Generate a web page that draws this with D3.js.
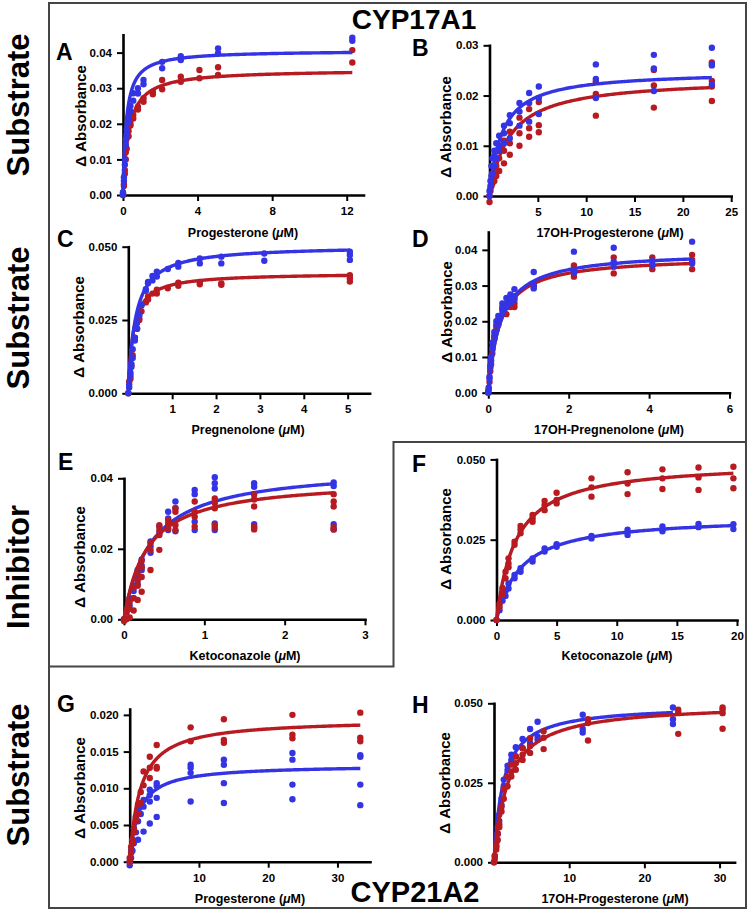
<!DOCTYPE html>
<html>
<head>
<meta charset="utf-8">
<script src="https://cdn.jsdelivr.net/npm/d3@7"></script>
<style>
body { margin: 0; background: #fff; }
svg { display: block; font-family: "Liberation Sans", Arial, Helvetica, sans-serif; font-weight: bold; }
</style>
</head>
<body>
<svg width="751" height="912"></svg>
<script>
// ---- data (replicates per concentration) ----
const aX = [0, 0.05, 0.1, 0.15, 0.2, 0.3, 0.4, 0.55, 0.8, 1.1, 1.6, 2.1, 3.1, 4.1, 5.1, 12.3];
const aBlue = [[0, 0.0008], [0.005, 0.004], [0.010, 0.0085], [0.0155, 0.014], [0.0185, 0.017], [0.022, 0.0205], [0.025, 0.0235], [0.0286, 0.0265], [0.030, 0.0285], [0.0323, 0.0311], [], [0.0374, 0.0356], [0.0390, 0.0379], [], [0.0412, 0.0398], [0.0442, 0.0433]];
const aRed = [[0, 0.0005], [0.003, 0.0025], [0.006, 0.007], [0.010, 0.012], [0.013, 0.016], [0.018, 0.0165], [0.0195, 0.020], [0.0225, 0.0215], [0.0248, 0.024], [0.0272, 0.0262], [0.029, 0.0283], [0.0323, 0.0297], [0.0332, 0.0318], [0.0351, 0.0328], [0.0359, 0.0337], [0.0407, 0.0372]];

const bX = [0, 0.1, 0.2, 0.3, 0.5, 0.7, 1.0, 1.5, 2.1, 3.1, 4.1, 5.1, 11, 17, 23];
const bBlue = [[0, 0.001], [0.003, 0.002], [0.006, 0.004], [0.0075, 0.006, 0.0045], [0.009, 0.008, 0.006], [0.0105, 0.009, 0.0075], [0.012, 0.010, 0.009], [0.014, 0.0125, 0.0105], [0.0161, 0.0145, 0.0115], [0.0185, 0.0168, 0.014], [0.0205, 0.0185, 0.0148], [0.0218, 0.0195, 0.0163], [0.0262, 0.0233, 0.0195], [0.0281, 0.0254, 0.0209], [0.0295, 0.0263, 0.0260, 0.0222]];
const bRed = [[-0.0012, 0], [0.0015, 0.001], [0.003, 0.002], [0.0045, 0.0035, 0.0025], [0.006, 0.005, 0.003], [0.0075, 0.006, 0.004], [0.009, 0.0075, 0.005], [0.011, 0.009, 0.0065], [0.0128, 0.0105, 0.0082], [0.0156, 0.0125, 0.010], [0.0173, 0.0135, 0.0118], [0.0187, 0.0141, 0.0127], [0.0228, 0.0203, 0.016], [0.0251, 0.022, 0.0176], [0.0266, 0.0229, 0.0218, 0.0189]];

const cX = [0, 0.02, 0.05, 0.07, 0.1, 0.15, 0.2, 0.25, 0.3, 0.4, 0.45, 0.55, 0.65, 0.9, 1.14, 1.63, 2.12, 3.1, 5.05];
const cBlue = [[0], [0.003, 0.002], [0.007, 0.006], [0.010, 0.009], [0.015, 0.012], [0.019, 0.018], [0.022, 0.024], [0.027, 0.0265], [0.0301, 0.030], [0.0355, 0.035], [0.038, 0.0375], [0.040, 0.0385], [0.0415, 0.0398], [0.0424], [0.0445, 0.0432], [0.046, 0.0443], [0.0466, 0.0443], [0.0477, 0.0452], [0.0483, 0.0472, 0.0455]];
const cRed = [[0], [0.004], [0.005], [0.0095], [0.013], [0.019], [0.022], [0.0255, 0.025], [0.028], [0.031], [0.033, 0.032], [0.034], [0.0353, 0.034], [0.0358], [0.0377, 0.0367], [0.038, 0.0372], [0.0375, 0.037], [], [0.0403, 0.0392, 0.0381]];

const dX = [0, 0.01, 0.03, 0.05, 0.07, 0.1, 0.15, 0.2, 0.25, 0.35, 0.45, 0.55, 0.65, 1.13, 2.13, 3.12, 4.08, 5.07];
const dBlue = [[0.0005, 0], [0.0015], [0.0045, 0.004], [0.0075, 0.007], [0.010, 0.009], [0.014, 0.0125], [0.017, 0.016], [0.020, 0.019], [0.0215, 0.0205], [0.025, 0.024, 0.023], [0.0265, 0.025, 0.024], [0.0275, 0.026, 0.025], [0.029, 0.027, 0.026], [0.0338, 0.0302, 0.0292], [0.0395, 0.0343, 0.0335], [0.0406, 0.0367, 0.0353], [0.0369, 0.0356], [0.0423, 0.0367, 0.0362]];
const dRed = [[0], [0.001], [0.003], [0.006], [0.008], [0.012, 0.011], [0.0155, 0.015], [0.0185, 0.0175], [0.020, 0.019], [0.0235, 0.022], [0.024, 0.022], [0.025, 0.024], [0.0265, 0.025, 0.024], [0.0302, 0.0297], [0.0356, 0.0325], [0.0379, 0.0334], [0.0379, 0.0356, 0.0346], [0.0386, 0.0372, 0.0346]];

const eX = [0, 0.03, 0.07, 0.12, 0.17, 0.22, 0.33, 0.44, 0.55, 0.64, 0.88, 1.13, 1.62, 2.61];
const eBlue = [[0], [0.002], [0.006, 0.004], [0.0095, 0.008, 0.006], [0.014, 0.012, 0.010], [0.017, 0.0152, 0.014], [0.0221, 0.0207, 0.0189], [0.0263, 0.0244], [0.0305, 0.0286, 0.0253], [0.0334, 0.0315, 0.025], [0.0367, 0.0355, 0.0277, 0.0253], [0.0403, 0.0386, 0.0371, 0.0272, 0.0253], [0.0386, 0.0376, 0.027, 0.026], [0.0388, 0.0378, 0.027, 0.0255]];
const eRed = [[0, -0.0005], [0.002, 0], [0.005, 0.003, 0.0005], [0.009, 0.006, 0.0025], [0.013, 0.011, 0.0095, 0.0055], [0.0166, 0.0147, 0.012, 0.0078], [0.0216, 0.0197, 0.014], [0.0267, 0.0253, 0.0239, 0.0197], [0.0282, 0.0272, 0.0258], [0.0315, 0.0305, 0.0267, 0.0253], [0.0334, 0.0305, 0.0291, 0.0263], [0.0343, 0.033, 0.0315, 0.0267, 0.026], [0.0353, 0.034, 0.032, 0.0263, 0.0255], [0.0355, 0.0334, 0.032, 0.0261, 0.0255]];

const fX = [0, 0.25, 0.5, 0.75, 1.0, 1.5, 2.0, 3.0, 4.0, 5.0, 7.9, 10.9, 13.8, 16.8, 19.7];
const fBlue = [[0], [0.003], [0.006], [0.009, 0.0075], [0.0114, 0.0098], [0.014, 0.013], [0.0161, 0.015], [0.0192, 0.0182], [0.0223, 0.0213], [0.0236, 0.0228], [0.0262, 0.0254], [0.0281, 0.0265], [0.0291, 0.0276], [0.0299, 0.0289], [0.0298, 0.0283]];
const fRed = [[0], [0.005, 0.004], [0.010, 0.008], [0.015, 0.013], [0.0192, 0.0176, 0.0164], [0.0244, 0.0234], [0.0293, 0.0282, 0.027], [0.0327, 0.0317, 0.0306], [0.0371, 0.0358, 0.0342], [0.0396, 0.0374, 0.0363], [0.0441, 0.0413, 0.0384], [0.046, 0.0425, 0.0392], [0.0469, 0.0441, 0.0408], [0.0475, 0.0444, 0.0405], [0.0477, 0.0441, 0.041]];

const gX = [0, 0.2, 0.4, 0.6, 0.9, 1.2, 1.6, 2.0, 2.9, 3.9, 8.8, 13.6, 23.5, 33.3];
const gBlue = [[0, -0.0005], [0.0015, 0.0005], [0.003, 0.0015], [0.0045, 0.0025], [0.006, 0.004], [0.0073, 0.0055, 0.003], [0.0078, 0.0065], [0.0084, 0.0075, 0.0041], [0.0098, 0.0091, 0.0082, 0.0052], [0.0107, 0.0103, 0.0087, 0.0061], [0.0132, 0.0128, 0.0121, 0.0082], [0.0139, 0.0132, 0.0107, 0.008], [0.0148, 0.0139, 0.0105, 0.0085], [0.0145, 0.0143, 0.0105, 0.0077]];
const gRed = [[0.0005, 0], [0.002, 0.0012], [0.003, 0.0025], [0.0045, 0.004], [0.0062, 0.0055], [0.0078, 0.0065], [0.0095, 0.008], [0.0123, 0.0104], [0.0143, 0.0128, 0.0114], [0.0159, 0.0129, 0.0127], [0.0183, 0.0164], [0.0194, 0.0166, 0.0162], [0.020, 0.0173, 0.0168], [0.0203, 0.0169, 0.0164]];

const hBlueX = [0, 0.1, 0.3, 0.5, 0.7, 1.0, 1.3, 1.8, 2.3, 2.9, 3.8, 4.8, 5.8, 11.8, 23.8];
const hBlue = [[0], [0.002], [0.006, 0.005], [0.011, 0.009], [0.015, 0.013], [0.020, 0.018], [0.026, 0.024], [0.0304, 0.029], [0.0338, 0.0322], [0.0362, 0.0333], [0.0388, 0.0359], [0.0419, 0.0375], [0.0442, 0.0395, 0.0385], [0.0464, 0.0419, 0.0408], [0.0487, 0.045, 0.0435]];
const hRedX = [0, 0.1, 0.3, 0.5, 0.7, 1.0, 1.3, 1.8, 2.3, 2.9, 3.8, 4.8, 6.6, 12.5, 24.5, 30.4];
const hRed = [[0], [0.002, 0.001], [0.005, 0.004], [0.009, 0.007], [0.012, 0.011], [0.0175, 0.016], [0.023, 0.020], [0.027, 0.0239], [0.0307, 0.0286, 0.027], [0.0333, 0.0312, 0.0291], [0.0359, 0.0338, 0.0322], [0.039, 0.0366, 0.0344], [0.0412, 0.0392, 0.0356], [0.045, 0.0438, 0.0383], [0.048, 0.0472, 0.0404], [0.0487, 0.048, 0.0469, 0.042]];

// fitted binding curves: [Bmax, Kd, last concentration]
const aFit = {blue: [0.0406, 0.175, 12.3], red: [0.03525, 0.306, 12.3]};
const bFit = {blue: [0.0249, 1.29, 23], red: [0.0235, 2.04, 23]};
const cFit = {blue: [0.0504, 0.16, 5.05], red: [0.0411, 0.1115, 5.05]};
const dFit = {blue: [0.0397, 0.304, 5.07], red: [0.0382, 0.283, 5.07]};
const eFit = {blue: [0.0434, 0.336, 2.61], red: [0.0398, 0.284, 2.61]};
const fFit = {blue: [0.0324, 2.01, 19.7], red: [0.0494, 1.61, 19.7]};
const gFit = {blue: [0.0132, 1.30, 33.3], red: [0.01944, 1.5, 33.3]};
const hFit = {blue: [0.0495, 1.22, 23.8], red: [0.05, 1.86, 30.4]};

const rowLabels = ["Substrate", "Substrate", "Inhibitor", "Substrate"];

let svg = d3.select("svg");
const BLUE = "#3434e4", RED = "#b71b21";

const panels = [
    {id: "A", bx: aX, by: aBlue, rx: aX, ry: aRed, fit: aFit, xMax: 12.9, yMax: 0.045, xr: [123, 363.5], yr: [195, 34.8],
     xTicks: [0, 4, 8, 12], yTicks: [0, 0.01, 0.02, 0.03, 0.04], yFmt: ".2f", xl: "Progesterone", redTop: false,
     letter: [56, 60], ylab: [80, 116], xlab: [243, 233]},
    {id: "B", bx: bX, by: bBlue, rx: bX, ry: bRed, fit: bFit, xMax: 25, yMax: 0.03, xr: [489.5, 731.2], yr: [196, 45.3],
     xTicks: [5, 10, 15, 20, 25], yTicks: [0, 0.01, 0.02, 0.03], yFmt: ".2f", xl: "17OH-Progesterone", redTop: false,
     letter: [412, 56], ylab: [445, 127], xlab: [610, 233]},
    {id: "C", bx: cX, by: cBlue, rx: cX, ry: cRed, fit: cFit, xMax: 5.5, yMax: 0.05, xr: [128.3, 369.6], yr: [393.3, 246.7],
     xTicks: [1, 2, 3, 4, 5], yTicks: [0, 0.025, 0.05], yFmt: ".3f", xl: "Pregnenolone", redTop: false,
     letter: [57, 247], ylab: [78, 327], xlab: [248, 430]},
    {id: "D", bx: dX, by: dBlue, rx: dX, ry: dRed, fit: dFit, xMax: 6, yMax: 0.045, xr: [488.3, 729.5], yr: [392.7, 232],
     xTicks: [0, 2, 4, 6], yTicks: [0, 0.01, 0.02, 0.03, 0.04], yFmt: ".2f", xl: "17OH-Pregnenolone", redTop: false,
     letter: [412, 247], ylab: [446, 312], xlab: [609, 430]},
    {id: "E", bx: eX, by: eBlue, rx: eX, ry: eRed, fit: eFit, xMax: 3, yMax: 0.04, xr: [124, 365], yr: [619.3, 478.3],
     xTicks: [0, 1, 2, 3], yTicks: [0, 0.02, 0.04], yFmt: ".2f", xl: "Ketoconazole", redTop: true,
     letter: [58, 470], ylab: [79, 557], xlab: [245, 656]},
    {id: "F", bx: fX, by: fBlue, rx: fX, ry: fRed, fit: fFit, xMax: 20, yMax: 0.05, xr: [496.5, 737], yr: [620, 459.4],
     xTicks: [0, 5, 10, 15, 20], yTicks: [0, 0.025, 0.05], yFmt: ".3f", xl: "Ketoconazole", redTop: true,
     letter: [412, 472], ylab: [445, 539], xlab: [617, 656]},
    {id: "G", bx: gX, by: gBlue, rx: gX, ry: gRed, fit: gFit, xMax: 34.7, yMax: 0.0208, xr: [129.7, 370], yr: [861.7, 709]},
    {id: "H", bx: hBlueX, by: hBlue, rx: hRedX, ry: hRed, fit: hFit, xMax: 32, yMax: 0.05, xr: [494, 734.6], yr: [862.3, 703.3]}
];
Object.assign(panels[6], {xTicks: [10, 20, 30], yTicks: [0, 0.005, 0.01, 0.015, 0.02], yFmt: ".3f", xl: "Progesterone", redTop: true,
    letter: [57, 712], ylab: [79, 788], xlab: [250, 899]});
Object.assign(panels[7], {xTicks: [10, 20, 30], yTicks: [0, 0.025, 0.05], yFmt: ".3f", xl: "17OH-Progesterone", redTop: true,
    letter: [412, 713], ylab: [444, 783], xlab: [615, 899]});

function flatten(xs, reps) {
    let out = [];
    xs.forEach((xv, i) => reps[i].forEach(yv => out.push({x: xv, y: yv})));
    return out;
}

function fitCurve(f) {
    let [bmax, kd, xEnd] = f;
    return d3.range(0, 201).map(i => {
        let xv = xEnd * Math.pow(i / 200, 2);
        return {x: xv, y: bmax * xv / (kd + xv)};
    });
}

function drawPanel(p) {
    let g = svg.append("g");
    let x = d3.scaleLinear().domain([0, p.xMax]).range(p.xr);
    let y = d3.scaleLinear().domain([0, p.yMax]).range(p.yr);

    let xa = g.append("g").attr("transform", `translate(0,${p.yr[0]})`)
        .call(d3.axisBottom(x).tickValues(p.xTicks).tickFormat(d3.format("d")).tickSize(6).tickSizeOuter(0).tickPadding(6));
    let ya = g.append("g").attr("transform", `translate(${p.xr[0]},0)`)
        .call(d3.axisLeft(y).tickValues(p.yTicks).tickFormat(d3.format(p.yFmt)).tickSize(6).tickSizeOuter(0).tickPadding(5));
    [xa, ya].forEach(a => {
        a.attr("font-family", null).attr("font-size", null);
        a.select(".domain").style("stroke", "#000").style("stroke-width", 2.6).style("stroke-linecap", "square");
        a.selectAll(".tick line").style("stroke", "#000").style("stroke-width", 2);
        a.selectAll(".tick text").style("fill", "#000").style("font-size", "11.5px");
    });

    let line = d3.line().x(d => x(d.x)).y(d => y(d.y));
    let series = [
        {pts: flatten(p.bx, p.by), fit: p.fit.blue, color: BLUE},
        {pts: flatten(p.rx, p.ry), fit: p.fit.red, color: RED}
    ];
    if (!p.redTop) series.reverse();
    series.forEach(s => {
        g.append("g").selectAll("circle").data(s.pts).enter().append("circle")
            .attr("cx", d => x(d.x)).attr("cy", d => y(d.y)).attr("r", 3.2)
            .style("fill", s.color);
        g.append("path").attr("d", line(fitCurve(s.fit)))
            .style("fill", "none").style("stroke", s.color).style("stroke-width", 3.4);
    });

    g.append("text").attr("x", p.letter[0]).attr("y", p.letter[1])
        .style("font-size", "23px").text(p.id);
    g.append("text").attr("transform", `translate(${p.ylab[0]},${p.ylab[1]}) rotate(-90)`)
        .attr("text-anchor", "middle").attr("dominant-baseline", "central")
        .style("font-size", "15px").text("Δ Absorbance");
    let t = g.append("text").attr("x", p.xlab[0]).attr("y", p.xlab[1])
        .attr("text-anchor", "middle").attr("dominant-baseline", "central").style("font-size", "12.5px");
    t.append("tspan").text(p.xl + " (");
    t.append("tspan").style("font-style", "italic").text("μ");
    t.append("tspan").text("M)");
}

// frame and dividers
svg.append("rect").attr("x", 49).attr("y", 3).attr("width", 697).attr("height", 905)
    .style("fill", "none").style("stroke", "#454545").style("stroke-width", 2);
svg.append("path").attr("d", "M49,666.5 H393.5 V442 H746")
    .style("fill", "none").style("stroke", "#454545").style("stroke-width", 2);

panels.forEach(drawPanel);

// row labels
const rowY = [105, 318, 567, 775];
rowLabels.forEach((lab, i) => {
    svg.append("text").attr("transform", `translate(29,${rowY[i]}) rotate(-90)`)
        .attr("text-anchor", "middle").style("font-size", "31px").text(lab);
});

svg.append("text").attr("x", 414).attr("y", 29).attr("text-anchor", "middle")
    .style("font-size", "28px").text("CYP17A1");
svg.append("text").attr("x", 415).attr("y", 902).attr("text-anchor", "middle")
    .style("font-size", "29px").text("CYP21A2");
</script>
</body>
</html>
